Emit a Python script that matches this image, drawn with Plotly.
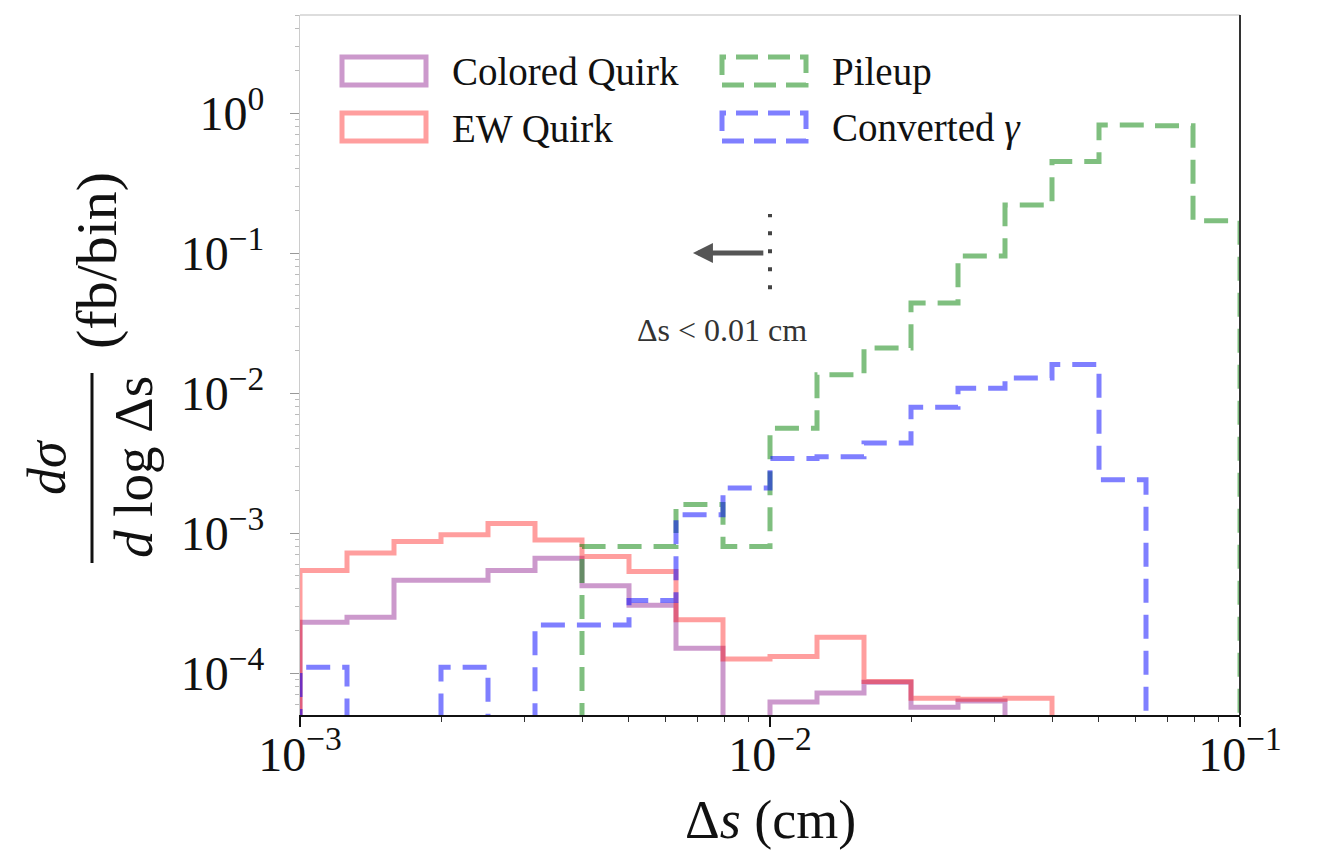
import plotly.graph_objects as go

# Logarithmic bins of the track separation Δs (cm), 10 per decade
bin_edges = [0.001, 0.0012589, 0.0015849, 0.0019953, 0.0025119, 0.0031623,
             0.0039811, 0.0050119, 0.0063096, 0.0079433, 0.01, 0.012589,
             0.015849, 0.019953, 0.025119, 0.031623, 0.039811, 0.050119,
             0.063096, 0.079433, 0.1]

# dσ / d log Δs (fb/bin) per bin; 0 = empty bin
colored_quirk = [2.3e-4, 2.5e-4, 4.6e-4, 4.6e-4, 5.4e-4, 6.6e-4, 4.2e-4, 3.05e-4,
                 1.5e-4, 0, 6.2e-5, 7.2e-5, 8.6e-5, 5.7e-5, 6.3e-5, 0, 0, 0, 0, 0]
ew_quirk = [5.4e-4, 7.2e-4, 8.7e-4, 9.7e-4, 1.17e-3, 8.9e-4, 6.8e-4, 5.3e-4,
            2.4e-4, 1.26e-4, 1.31e-4, 1.8e-4, 8.7e-5, 6.6e-5, 6.5e-5, 6.6e-5,
            0, 0, 0, 0]
pileup = [0, 0, 0, 0, 0, 0, 8.0e-4, 8.0e-4, 1.6e-3, 8.0e-4, 5.6e-3, 1.35e-2,
          2.1e-2, 4.4e-2, 9.5e-2, 0.22, 0.45, 0.82, 0.81, 0.17]
converted_gamma = [1.1e-4, 0, 0, 1.1e-4, 0, 2.2e-4, 2.2e-4, 3.3e-4, 1.35e-3,
                   2.1e-3, 3.4e-3, 3.5e-3, 4.4e-3, 7.9e-3, 1.08e-2, 1.28e-2,
                   1.6e-2, 2.4e-3, 0, 0]

x_tick_vals = [1e-3, 1e-2, 1e-1]
x_tick_text = ["10<sup>−3</sup>", "10<sup>−2</sup>", "10<sup>−1</sup>"]
y_tick_vals = [1e-4, 1e-3, 1e-2, 1e-1, 1]
y_tick_text = ["10<sup>−4</sup>", "10<sup>−3</sup>", "10<sup>−2</sup>",
               "10<sup>−1</sup>", "10<sup>0</sup>"]

cut_value = 0.01  # Δs selection threshold (cm)

SERIF = "Liberation Serif"
FLOOR = 1e-7  # empty bins drop below the visible range of the log axis


def step_xy(values):
    xs = [bin_edges[0]] + bin_edges[:-1] + [bin_edges[-1]]
    ys = [FLOOR] + [v if v > 0 else FLOOR for v in values] + [FLOOR]
    return xs, ys


series = [
    ("Colored Quirk", colored_quirk, "rgba(128,0,128,0.4)", "solid"),
    ("EW Quirk", ew_quirk, "rgba(255,0,0,0.38)", "solid"),
    ("Pileup", pileup, "rgba(0,128,0,0.5)", "24px,12px"),
    ("Converted <i>γ</i>", converted_gamma, "rgba(0,0,255,0.5)", "24px,12px"),
]

fig = go.Figure()
for name, vals, color, dash in series:
    xs, ys = step_xy(vals)
    fig.add_trace(go.Scatter(x=xs, y=ys, mode="lines", line_shape="hv",
                             line=dict(color=color, width=5, dash=dash),
                             name=name, showlegend=False))

minor_x = [k * 10.0 ** p for p in (-3, -2) for k in range(2, 10)]
minor_y = [k * 10.0 ** p for p in (-5, -4, -3, -2, -1, 0) for k in range(2, 10)]


def px_x(p):
    return (p - 300) / 940


def px_y(p):
    return (715 - p) / 700


def label(text, x, y, size, angle=0, color="#111", xanchor="center"):
    return dict(text=text, xref="paper", yref="paper", x=x, y=y,
                xanchor=xanchor, yanchor="middle", textangle=angle,
                showarrow=False, font=dict(family=SERIF, size=size, color=color))


shapes = []
annotations = []

# legend: outlined patches with labels, two columns
legend_pos = [(342, 57), (342, 113), (722, 57), (722, 113)]
for (name, vals, color, dash), (lx, ly) in zip(series, legend_pos):
    shapes.append(dict(type="rect", xref="paper", yref="paper",
                       x0=px_x(lx), x1=px_x(lx + 84), y0=px_y(ly + 28), y1=px_y(ly),
                       line=dict(color=color, width=5,
                                 dash="solid" if dash == "solid" else "22px,10px"),
                       fillcolor="rgba(0,0,0,0)"))
    annotations.append(label(name, px_x(lx + 108), px_y(ly + 15), 39,
                             xanchor="left"))

# selection marker: dotted line at the cut with a left-pointing arrow
shapes.append(dict(type="line", xref="x", yref="y", x0=cut_value, x1=cut_value,
                   y0=0.055, y1=0.19,
                   line=dict(color="#444", width=4, dash="4px,14px")))
annotations.append(dict(x=-2.164, y=-1, ax=-2.011, ay=-1, xref="x", yref="y",
                        axref="x", ayref="y", text="", showarrow=True,
                        arrowhead=2, arrowsize=0.8, arrowwidth=5,
                        arrowcolor="#555"))
annotations.append(label("Δs < 0.01 cm", px_x(722), px_y(330), 32, color="#333"))

# frame: light top edge, dark right edge
shapes.append(dict(type="line", xref="paper", yref="paper", x0=0, x1=1, y0=1, y1=1,
                   line=dict(color="#bbbbbb", width=1)))
shapes.append(dict(type="line", xref="paper", yref="paper", x0=1, x1=1, y0=0, y1=1,
                   line=dict(color="#333333", width=2)))

# y-axis title drawn as a fraction: dσ / (d log Δs) (fb/bin)
annotations.append(label("<i>dσ</i>", px_x(47), px_y(467), 54, angle=-90))
shapes.append(dict(type="line", xref="paper", yref="paper",
                   x0=px_x(92), x1=px_x(92), y0=px_y(563), y1=px_y(373),
                   line=dict(color="#111", width=3)))
annotations.append(label("<i>d</i> log Δs", px_x(133), px_y(467), 55, angle=-90))
annotations.append(label("(fb/bin)", px_x(96), px_y(261), 58, angle=-90))

# x-axis title
annotations.append(label("Δ<i>s</i> (cm)", 0.5, px_y(820), 54))

fig.update_layout(
    width=1320, height=859, autosize=False,
    margin=dict(l=300, r=80, t=15, b=144),
    paper_bgcolor="white", plot_bgcolor="white",
    shapes=shapes, annotations=annotations,
    xaxis=dict(type="log", range=[-3, -1], showgrid=False, zeroline=False,
               showline=True, linecolor="#111", linewidth=2,
               ticks="outside", ticklen=10, tickwidth=2, tickcolor="#111",
               tickmode="array", tickvals=x_tick_vals, ticktext=x_tick_text,
               tickfont=dict(family=SERIF, size=48, color="#111"),
               ticklabelstandoff=-14,
               minor=dict(tickmode="array", tickvals=minor_x, ticks="outside",
                          ticklen=5, tickwidth=1, tickcolor="#333")),
    yaxis=dict(type="log", range=[-4.3, 0.7], showgrid=False, zeroline=False,
               showline=True, linecolor="#cccccc", linewidth=1,
               ticks="outside", ticklen=9, tickwidth=1, tickcolor="#999",
               tickmode="array", tickvals=y_tick_vals, ticktext=y_tick_text,
               tickfont=dict(family=SERIF, size=48, color="#111"),
               ticklabelstandoff=16,
               minor=dict(tickmode="array", tickvals=minor_y, ticks="outside",
                          ticklen=4, tickwidth=1, tickcolor="#bbb")),
)

fig.write_html("out.html")
